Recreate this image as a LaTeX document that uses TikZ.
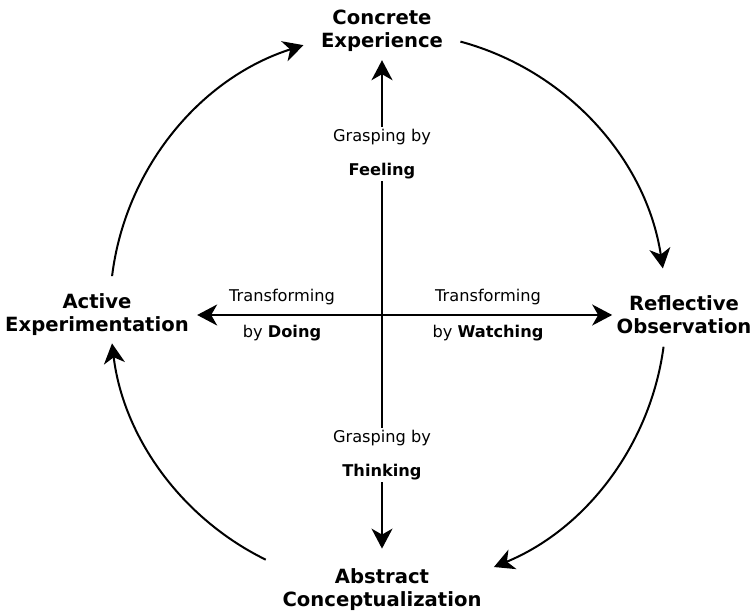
\documentclass[tikz,border=0pt]{standalone}
\usepackage{fontspec}
\setmainfont{DejaVu Sans}
\usetikzlibrary{arrows.meta}

\begin{document}
\begin{tikzpicture}
    [
    x=0.5pt, y=0.5pt,
    stage/.style={align=center,inner sep=2pt,font=\fontsize{9.8}{11.5}\selectfont\bfseries},
    mode/.style={align=center,inner sep=1pt,font=\fontsize{8.1}{10}\selectfont},
    toward/.style={line width=1pt,-{Stealth[length=10pt,width=10.5pt,inset=3pt]}},
    flow/.style={line width=1pt,-{Stealth[length=10pt,width=10.5pt,inset=3pt]}}
    ]
    \useasboundingbox (0,0) rectangle (753,615);
    \coordinate (o) at (382,300);
    \coordinate (hub) at (388,305);
    \node (ce) at (382,584) [stage] {Concrete\\Experience};
    \node (ro) at (684,300) [stage] {Reflective\\Observation};
    \node (ac) at (382,25) [stage] {Abstract\\Conceptualization};
    \node (ae) at (97,300) [stage] {Active\\Experimentation};
    % the two axes
    \draw [toward, shorten >=2pt] (o) to (ce);
    \draw [toward, shorten >=8pt] (o) to (ac);
    \draw [toward, shorten >=2pt] (o) to (ae);
    \draw [toward] (o) to (ro);
    \node (feel) at (382,461) [mode, fill=white] {Grasping by\\[7pt]\textbf{Feeling}};
    \node (think) at (382,160) [mode, fill=white] {Grasping by\\[7pt]\textbf{Thinking}};
    \node (doing) at (282,300) [mode] {Transforming\\[8pt]by \textbf{Doing}};
    \node (watch) at (488,300) [mode] {Transforming\\[8pt]by \textbf{Watching}};
    % the learning cycle
    \draw [flow] ([shift={(173:278)}]hub) arc [start angle=173, end angle=107.7, radius=278];
    \draw [flow] ([shift={(74.9:278)}]hub) arc [start angle=74.9, end angle=8.6, radius=278];
    \draw [flow] ([shift={(-7.6:278)}]hub) arc [start angle=-7.6, end angle=-67.6, radius=278];
    \draw [flow] ([shift={(243.9:278)}]hub) arc [start angle=243.9, end angle=186.9, radius=278];
  \end{tikzpicture}
\end{document}
